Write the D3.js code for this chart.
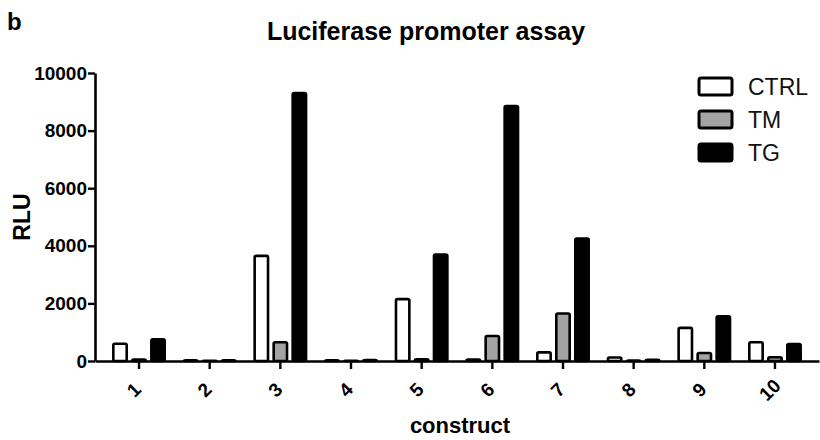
<!DOCTYPE html>
<html>
<head>
<meta charset="utf-8">
<script src="https://cdn.jsdelivr.net/npm/d3@7"></script>
<style>
  body { margin: 0; background: #fff; }
  text { font-family: "Liberation Sans", Arial, sans-serif; }
</style>
</head>
<body>
<div id="chart"></div>
<script>
// chart values
const constructs = ["1", "2", "3", "4", "5", "6", "7", "8", "9", "10"];
const series = ["CTRL", "TM", "TG"];
const ctrlValues = [600, 25, 3650, 25, 2150, 50, 300, 120, 1150, 650];
const tmValues = [50, 5, 650, 5, 60, 870, 1650, 15, 280, 130];
const tgValues = [750, 25, 9300, 35, 3700, 8850, 4250, 40, 1550, 590];
const yTicks = [0, 2000, 4000, 6000, 8000, 10000];

const fills = {CTRL: "#ffffff", TM: "#a3a3a3", TG: "#000000"};
const valuesBySeries = {CTRL: ctrlValues, TM: tmValues, TG: tgValues};

const width = 820, height = 440;

const rows = constructs.map((c, i) => ({
    construct: c,
    bars: series.map(s => ({key: s, value: valuesBySeries[s][i]}))
}));

const svg = d3.select("#chart")
    .append("svg")
    .attr("width", width)
    .attr("height", height);

// scales
const x0 = d3.scaleBand()
    .domain(constructs)
    .range([95, 819])
    .paddingInner(0.236)
    .paddingOuter(0.241);

const x1 = d3.scaleBand()
    .domain(series)
    .range([0, x0.bandwidth()])
    .paddingInner(0.16)
    .paddingOuter(0);

const y = d3.scaleLinear()
    .domain([0, 10000])
    .range([361, 73]);

const sw = 2.6; // bar outline width

// bars
svg.append("g")
    .selectAll("g")
    .data(rows)
    .join("g")
        .attr("transform", d => `translate(${x0(d.construct)},0)`)
    .selectAll("rect")
    .data(d => d.bars)
    .join("rect")
        .attr("x", d => x1(d.key) + sw / 2)
        .attr("width", x1.bandwidth() - sw)
        .attr("y", d => y(d.value))
        .attr("height", d => y(0) - y(d.value))
        .attr("rx", 1.5)
        .attr("fill", d => fills[d.key])
        .attr("stroke", "#000")
        .attr("stroke-width", sw);

// axes
const xAxis = svg.append("g")
    .attr("transform", `translate(0,${y(0)})`)
    .call(d3.axisBottom(x0).tickSize(8).tickSizeOuter(0));

xAxis.select(".domain").attr("stroke-width", 2.6);
xAxis.selectAll(".tick line").attr("stroke-width", 2.4);
xAxis.selectAll(".tick text")
    .attr("font-size", 19)
    .attr("font-weight", "bold")
    .attr("fill", "#000")
    .attr("text-anchor", "middle")
    .attr("dy", null)
    .attr("y", null)
    .attr("transform", "translate(-4,30) rotate(-45)")
    .attr("dominant-baseline", "middle");

const yAxis = svg.append("g")
    .attr("transform", "translate(95,0)")
    .call(d3.axisLeft(y).tickValues(yTicks).tickSize(7).tickSizeOuter(0).tickFormat(d3.format("d")));

yAxis.select(".domain").attr("stroke-width", 2.6);
yAxis.selectAll(".tick line").attr("stroke-width", 2.4);
yAxis.selectAll(".tick text")
    .attr("font-size", 19)
    .attr("font-weight", "bold")
    .attr("fill", "#000")
    .attr("x", -8);

// titles
svg.append("text")
    .attr("x", 7)
    .attr("y", 30)
    .attr("font-size", 24)
    .attr("font-weight", "bold")
    .text("b");

svg.append("text")
    .attr("x", 426)
    .attr("y", 40)
    .attr("text-anchor", "middle")
    .attr("font-size", 25)
    .attr("font-weight", "bold")
    .text("Luciferase promoter assay");

svg.append("text")
    .attr("transform", "translate(30,217) rotate(-90)")
    .attr("text-anchor", "middle")
    .attr("font-size", 23)
    .attr("font-weight", "bold")
    .text("RLU");

svg.append("text")
    .attr("x", 460)
    .attr("y", 433)
    .attr("text-anchor", "middle")
    .attr("font-size", 22)
    .attr("font-weight", "bold")
    .text("construct");

// legend
const legend = svg.append("g")
    .selectAll("g")
    .data(series)
    .join("g")
        .attr("transform", (d, i) => `translate(699,${78 + i * 33})`);

legend.append("rect")
    .attr("width", 33)
    .attr("height", 17)
    .attr("rx", 2)
    .attr("fill", d => fills[d])
    .attr("stroke", "#000")
    .attr("stroke-width", 3);

legend.append("text")
    .attr("x", 49)
    .attr("y", 9)
    .attr("dy", "0.35em")
    .attr("font-size", 23)
    .attr("fill", "#111")
    .text(d => d);
</script>
</body>
</html>
